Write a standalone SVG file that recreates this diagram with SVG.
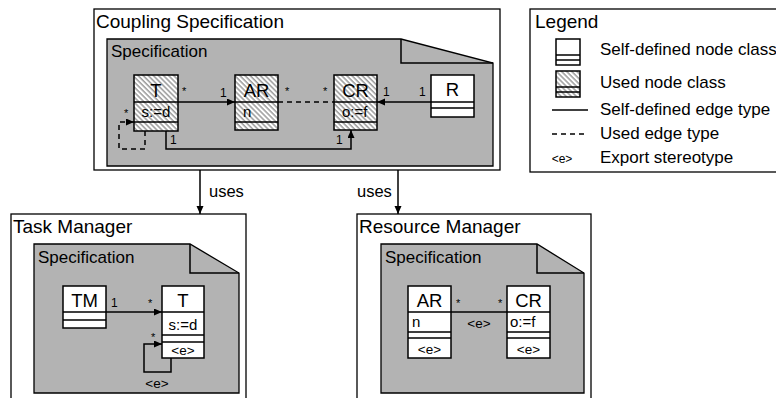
<svg xmlns="http://www.w3.org/2000/svg" width="776" height="398" viewBox="0 0 776 398">
<style>
text{font-family:"Liberation Sans",Arial,sans-serif;fill:#000}
.title{font-size:19px}
.spect{font-size:17px}
.leg{font-size:17px}
.nm{font-size:18.5px;text-anchor:middle}
.at{font-size:15px}
.atc{font-size:15px;text-anchor:middle}
.ex{font-size:13.5px;text-anchor:middle}
.m{font-size:12px}
.st{font-size:11px}
.box{fill:#fff;stroke:#000;stroke-width:1.3}
.spec{fill:#b3b3b3;stroke:#000;stroke-width:1.3}
.self{fill:#fff;stroke:#000;stroke-width:1.5}
.used{fill:url(#hatch);stroke:#000;stroke-width:1.5}
.ln{stroke:#000;stroke-width:1.5;fill:none}
.edge{stroke:#000;stroke-width:1.5;fill:none}
.dash{stroke-dasharray:5,4}
</style>
<defs>
<pattern id="hatch" patternUnits="userSpaceOnUse" width="3.6" height="3.6" patternTransform="rotate(-45)">
<rect width="3.6" height="3.6" fill="#fff"/>
<line x1="1" y1="0" x2="1" y2="3.6" stroke="#8a8a8a" stroke-width="1.3"/>
</pattern>
<marker id="arr" markerUnits="userSpaceOnUse" markerWidth="9" markerHeight="8" refX="8" refY="3.5" orient="auto">
<path d="M0,0 L8,3.5 L0,7 z" fill="#000"/>
</marker>
</defs>

<g id="coupling">
<rect class="box" x="94" y="9" width="406" height="161"/>
<text class="title" x="96" y="28">Coupling Specification</text>
<path class="spec" d="M107,39 H401 L493,63 V166 H107 Z"/>
<path class="ln" d="M401,39 V63 H493" stroke-width="1.3"/>
<text class="spect" x="111" y="57">Specification</text>
</g>

<g id="c-T">
<rect class="used" x="134" y="75" width="44" height="56"/>
<path class="ln" d="M134,102 H178 M134,122 H178"/>
<text class="nm" x="156" y="97">T</text>
<text class="atc" x="156" y="117">s:=d</text>
</g>
<g id="c-AR">
<rect class="used" x="235" y="75" width="43" height="55"/>
<path class="ln" d="M235,102 H278 M235,122 H278"/>
<text class="nm" x="256.5" y="97">AR</text>
<text class="at" x="243" y="117">n</text>
</g>
<g id="c-CR">
<rect class="used" x="334" y="75" width="43" height="55"/>
<path class="ln" d="M334,102 H377 M334,122 H377"/>
<text class="nm" x="355.5" y="97">CR</text>
<text class="at" x="342" y="117">o:=f</text>
</g>
<g id="c-R">
<rect class="self" x="431" y="75" width="43" height="42"/>
<path class="ln" d="M431,102 H474 M431,108 H474"/>
<text class="nm" x="452.5" y="96">R</text>
</g>

<g id="taskmanager">
<rect class="box" x="11" y="214" width="235" height="200"/>
<text class="title" x="13" y="233">Task Manager</text>
<path class="spec" d="M34,244 H190 L239,273 V393 H34 Z"/>
<path class="ln" d="M190,244 V273 H239" stroke-width="1.3"/>
<text class="spect" x="38" y="263">Specification</text>
</g>
<g id="t-TM">
<rect class="self" x="63" y="286" width="43" height="42"/>
<path class="ln" d="M63,312 H106 M63,320 H106"/>
<text class="nm" x="84.5" y="307">TM</text>
</g>
<g id="t-T">
<rect class="self" x="162" y="286" width="42" height="72"/>
<path class="ln" d="M162,312 H204 M162,335 H204 M162,342 H204"/>
<text class="nm" x="183" y="307">T</text>
<text class="atc" x="183" y="330">s:=d</text>
<text class="ex" x="183" y="355">&lt;e&gt;</text>
</g>

<g id="resourcemanager">
<rect class="box" x="357" y="214" width="234" height="200"/>
<text class="title" x="359" y="233">Resource Manager</text>
<path class="spec" d="M381,244 H537 L584,273 V393 H381 Z"/>
<path class="ln" d="M537,244 V273 H584" stroke-width="1.3"/>
<text class="spect" x="385" y="263">Specification</text>
</g>
<g id="r-AR">
<rect class="self" x="408" y="286" width="43" height="72"/>
<path class="ln" d="M408,312 H451 M408,332 H451 M408,338 H451"/>
<text class="nm" x="429.5" y="307">AR</text>
<text class="at" x="412" y="327">n</text>
<text class="ex" x="429.5" y="354">&lt;e&gt;</text>
</g>
<g id="r-CR">
<rect class="self" x="507" y="286" width="43" height="72"/>
<path class="ln" d="M507,312 H550 M507,332 H550 M507,338 H550"/>
<text class="nm" x="528.5" y="307">CR</text>
<text class="at" x="510" y="327">o:=f</text>
<text class="ex" x="528.5" y="354">&lt;e&gt;</text>
</g>

<g id="legend">
<rect class="box" x="530" y="9" width="260" height="163"/>
<text class="title" x="535" y="28">Legend</text>
<rect class="self" x="556" y="39" width="24" height="26"/>
<path class="ln" d="M556,55 H580 M556,60 H580"/>
<rect class="used" x="556" y="71" width="24" height="26"/>
<path class="ln" d="M556,87 H580 M556,92 H580"/>
<line class="edge" x1="552" y1="110" x2="588" y2="110"/>
<line class="edge dash" x1="552" y1="134" x2="588" y2="134"/>
<text class="ex" x="562" y="163" style="font-size:12px">&lt;e&gt;</text>
<text class="leg" x="600" y="55">Self-defined node class</text>
<text class="leg" x="600" y="88">Used node class</text>
<text class="leg" x="600" y="115">Self-defined edge type</text>
<text class="leg" x="600" y="139">Used edge type</text>
<text class="leg" x="600" y="163">Export stereotype</text>
</g>

<g id="connectors">
<line class="edge" x1="178" y1="102" x2="235" y2="102" marker-end="url(#arr)"/>
<text class="st" x="182" y="95">*</text>
<text class="m" x="220" y="97">1</text>
<line class="edge dash" x1="278" y1="102" x2="334" y2="102"/>
<text class="st" x="285" y="95">*</text>
<text class="st" x="323" y="95">*</text>
<line class="edge" x1="431" y1="102" x2="377" y2="102" marker-end="url(#arr)"/>
<text class="m" x="383" y="96">1</text>
<text class="m" x="419" y="96">1</text>
<path class="edge" d="M166,131 V149 H351 V130" marker-end="url(#arr)"/>
<text class="m" x="170" y="144">1</text>
<text class="m" x="336" y="144">1</text>
<path class="edge dash" d="M145,131 V149 H119 V122 H134" marker-end="url(#arr)"/>
<text class="st" x="124" y="117">*</text>

<line class="edge" x1="200" y1="170" x2="200" y2="214" marker-end="url(#arr)"/>
<text class="leg" x="209" y="197" style="font-size:16.5px">uses</text>
<line class="edge" x1="398" y1="170" x2="398" y2="214" marker-end="url(#arr)"/>
<text class="leg" x="357" y="197" style="font-size:16.5px">uses</text>

<line class="edge" x1="106" y1="312" x2="162" y2="312" marker-end="url(#arr)"/>
<text class="m" x="111" y="307">1</text>
<text class="st" x="148" y="307">*</text>
<path class="edge" d="M171,358 V372 H144 V344 H162" marker-end="url(#arr)"/>
<text class="st" x="151" y="341">*</text>
<text class="ex" x="157" y="388">&lt;e&gt;</text>

<line class="edge" x1="451" y1="312" x2="507" y2="312"/>
<text class="st" x="456" y="307">*</text>
<text class="st" x="498" y="307">*</text>
<text class="ex" x="479" y="328">&lt;e&gt;</text>
</g>
</svg>
